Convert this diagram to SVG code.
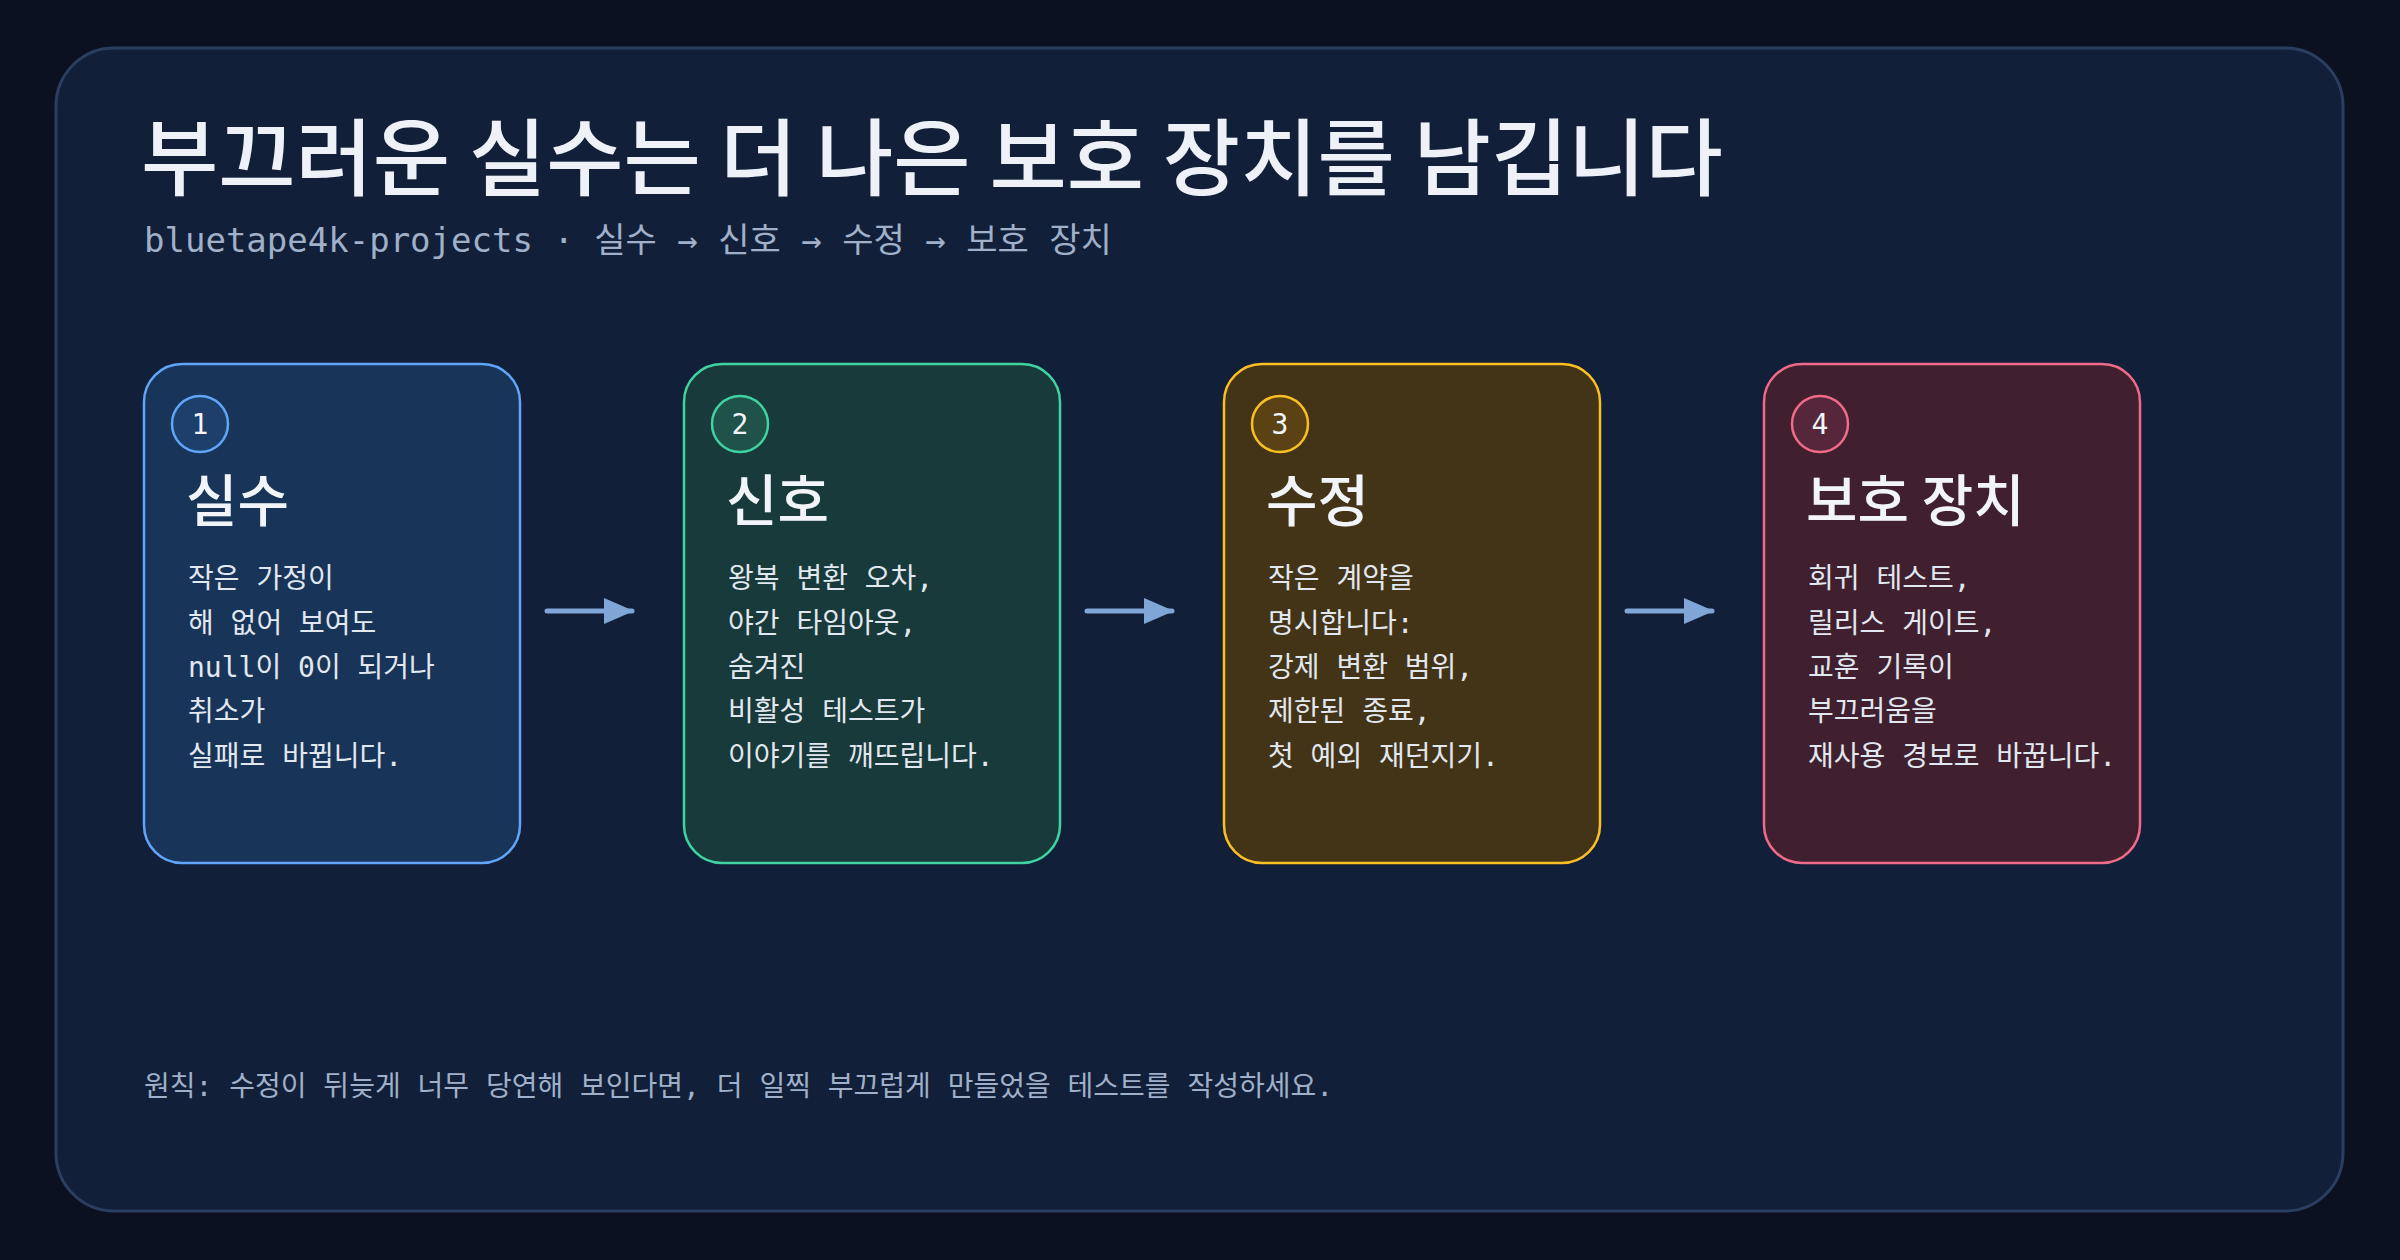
<svg xmlns="http://www.w3.org/2000/svg" width="2400" height="1260" viewBox="0 0 2400 1260">
<defs>
<style>
.mono{font-family:"DejaVu Sans Mono","Liberation Mono","Noto Sans CJK KR",monospace}
.sans{font-family:"Noto Sans CJK KR","Noto Sans",sans-serif}
.title{font-size:84px;fill:#eef2f8;font-weight:500}
.sub{font-size:34px;fill:#9fb0c8}
.ct{font-size:56px;fill:#f1f5f9;font-weight:500}
.body{font-size:28px;fill:#e2e8f0}
.num{font-size:28px;fill:#f1f5f9;text-anchor:middle}
.foot{font-size:28px;fill:#9fb0c8}
.conn{stroke:#7fa6d6;stroke-width:5;stroke-linecap:round;fill:none}
</style>
<marker id="ah" viewBox="0 0 10 10" refX="9" refY="5" markerWidth="6" markerHeight="6" markerUnits="userSpaceOnUse" orient="auto"><path d="M0,0 L10,5 L0,10 z" fill="#7fa6d6"/></marker>
<marker id="arr" viewBox="0 0 30 30" refX="28" refY="15" markerWidth="30" markerHeight="30" markerUnits="userSpaceOnUse" orient="auto"><path d="M0,2 L30,15 L0,28 z" fill="#7fa6d6"/></marker>
</defs>
<rect width="2400" height="1260" fill="#0b1120"/>
<rect x="56" y="48" width="2287" height="1163" rx="58" fill="#111f38" stroke="#2a3f5f" stroke-width="3"/>
<text class="sans title" x="141" y="189">부끄러운 실수는 더 나은 보호 장치를 남깁니다</text>
<text class="mono sub" x="144" y="252">bluetape4k-projects · 실수 → 신호 → 수정 → 보호 장치</text>
<g id="connectors">
<line class="conn" x1="547" y1="611" x2="632" y2="611" marker-end="url(#arr)"/>
<line class="conn" x1="1087" y1="611" x2="1172" y2="611" marker-end="url(#arr)"/>
<line class="conn" x1="1627" y1="611" x2="1712" y2="611" marker-end="url(#arr)"/>
</g>
<g id="node1">
<rect x="144" y="364" width="376" height="499" rx="38" fill="#183459" stroke="#60a5fa" stroke-width="2.5"/>
<circle cx="200" cy="424" r="28" fill="#1f3f6b" stroke="#60a5fa" stroke-width="2.5"/>
<text class="mono num" x="200" y="434">1</text>
<text class="sans ct" x="186" y="521">실수</text>
<text class="mono body"><tspan x="188" y="588">작은 가정이</tspan><tspan x="188" y="633">해 없어 보여도</tspan><tspan x="188" y="677">null이 0이 되거나</tspan><tspan x="188" y="721">취소가</tspan><tspan x="188" y="766">실패로 바뀝니다.</tspan></text>
</g>
<g id="node2">
<rect x="684" y="364" width="376" height="499" rx="38" fill="#183a3a" stroke="#3ed3a0" stroke-width="2.5"/>
<circle cx="740" cy="424" r="28" fill="#1f5248" stroke="#3ed3a0" stroke-width="2.5"/>
<text class="mono num" x="740" y="434">2</text>
<text class="sans ct" x="726" y="521">신호</text>
<text class="mono body"><tspan x="728" y="588">왕복 변환 오차,</tspan><tspan x="728" y="633">야간 타임아웃,</tspan><tspan x="728" y="677">숨겨진</tspan><tspan x="728" y="721">비활성 테스트가</tspan><tspan x="728" y="766">이야기를 깨뜨립니다.</tspan></text>
</g>
<g id="node3">
<rect x="1224" y="364" width="376" height="499" rx="38" fill="#433417" stroke="#fbbf24" stroke-width="2.5"/>
<circle cx="1280" cy="424" r="28" fill="#5a4214" stroke="#fbbf24" stroke-width="2.5"/>
<text class="mono num" x="1280" y="434">3</text>
<text class="sans ct" x="1266" y="521">수정</text>
<text class="mono body"><tspan x="1268" y="588">작은 계약을</tspan><tspan x="1268" y="633">명시합니다:</tspan><tspan x="1268" y="677">강제 변환 범위,</tspan><tspan x="1268" y="721">제한된 종료,</tspan><tspan x="1268" y="766">첫 예외 재던지기.</tspan></text>
</g>
<g id="node4">
<rect x="1764" y="364" width="376" height="499" rx="38" fill="#40202e" stroke="#f06a8a" stroke-width="2.5"/>
<circle cx="1820" cy="424" r="28" fill="#56263a" stroke="#f06a8a" stroke-width="2.5"/>
<text class="mono num" x="1820" y="434">4</text>
<text class="sans ct" x="1806" y="521">보호 장치</text>
<text class="mono body"><tspan x="1808" y="588">회귀 테스트,</tspan><tspan x="1808" y="633">릴리스 게이트,</tspan><tspan x="1808" y="677">교훈 기록이</tspan><tspan x="1808" y="721">부끄러움을</tspan><tspan x="1808" y="766">재사용 경보로 바꿉니다.</tspan></text>
</g>
<text class="mono foot" x="144" y="1096">원칙: 수정이 뒤늦게 너무 당연해 보인다면, 더 일찍 부끄럽게 만들었을 테스트를 작성하세요.</text>
</svg>
